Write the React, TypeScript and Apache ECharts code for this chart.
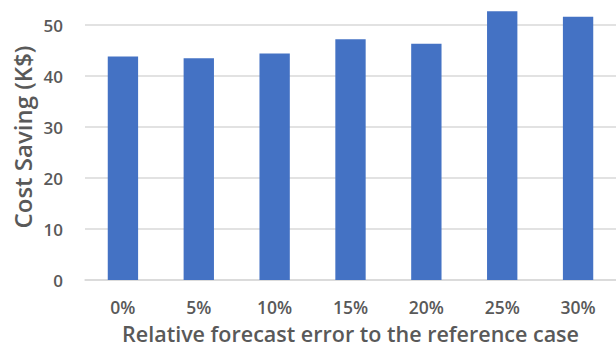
import React, { useEffect, useRef } from "react";
import * as echarts from "echarts";

const categories = ["0%", "5%", "10%", "15%", "20%", "25%", "30%"];
const costSaving = [43.8, 43.5, 44.4, 47.2, 46.3, 52.7, 51.6];
const yTicks = { min: 0, max: 50, interval: 10 };

const FONT = "'Open Sans', sans-serif";
const TEXT = "#595959";

export default function App() {
  const ref = useRef<HTMLDivElement>(null);

  useEffect(() => {
    if (!ref.current) return;
    const chart = echarts.init(ref.current, undefined, { renderer: "svg" });
    chart.setOption({
      animation: false,
      backgroundColor: "#ffffff",
      grid: { left: 85, right: 0, top: 25, bottom: 64 },
      xAxis: {
        type: "category",
        data: categories,
        axisTick: { show: false },
        axisLine: { lineStyle: { color: "#d9d9d9", width: 1.5 } },
        axisLabel: {
          color: TEXT,
          fontFamily: FONT,
          fontSize: 17.5,
          fontWeight: 600,
          margin: 18,
        },
        name: "Relative forecast error to the reference case",
        nameLocation: "middle",
        nameGap: 42,
        nameTextStyle: {
          color: TEXT,
          fontFamily: FONT,
          fontSize: 21.5,
          fontWeight: 600,
        },
      },
      yAxis: {
        type: "value",
        min: yTicks.min,
        max: yTicks.max,
        interval: yTicks.interval,
        axisLine: { show: false },
        axisTick: { show: false },
        splitLine: { lineStyle: { color: "#d9d9d9", width: 1.5 } },
        axisLabel: {
          color: TEXT,
          fontFamily: FONT,
          fontSize: 17,
          fontWeight: 600,
          margin: 22,
        },
      },
      graphic: [
        {
          type: "text",
          x: 22,
          y: 137,
          rotation: Math.PI / 2,
          style: {
            text: "Cost Saving (K$)",
            fill: TEXT,
            font: `600 24px ${FONT}`,
            align: "center",
            verticalAlign: "middle",
          },
        },
      ],
      series: [
        {
          type: "bar",
          data: costSaving,
          barCategoryGap: "60%",
          clip: false,
          itemStyle: { color: "#4472c4" },
        },
      ],
    });
    return () => chart.dispose();
  }, []);

  return (
    <div
      ref={ref}
      style={{ position: "fixed", left: 0, top: 0, width: 616, height: 349 }}
    />
  );
}
